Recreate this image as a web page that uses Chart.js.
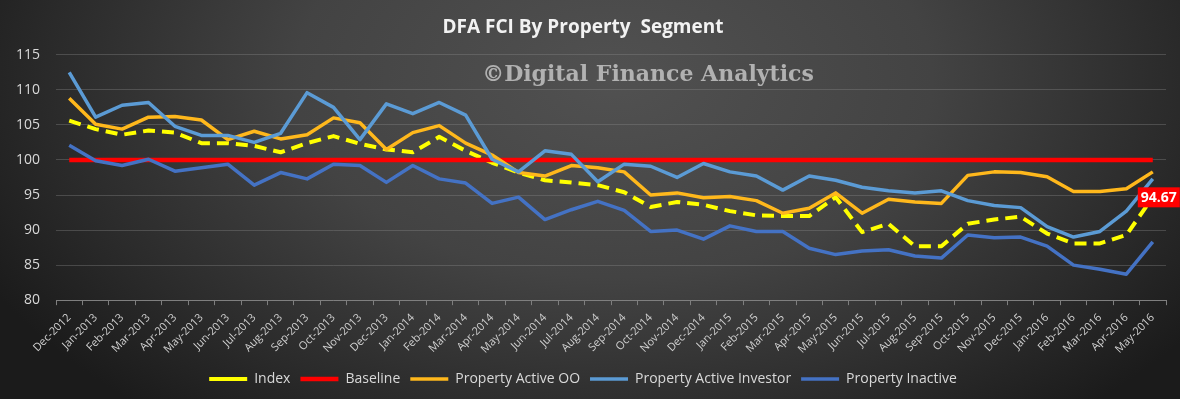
<!DOCTYPE html>
<html>
<head>
<meta charset="utf-8">
<script src="https://cdn.jsdelivr.net/npm/chart.js@4"></script>
<style>
  body { margin: 0; }
  #wrap {
    width: 1180px; height: 399px;
    background: radial-gradient(ellipse 60% 110% at 52% 20%, #515151 0%, #434343 45%, #2a2a2a 80%, #1b1b1b 100%);
  }
</style>
</head>
<body>
<div id="wrap"><canvas id="chart"></canvas></div>
<script>
const months = ['Dec-2012', 'Jan-2013', 'Feb-2013', 'Mar-2013', 'Apr-2013', 'May-2013', 'Jun-2013', 'Jul-2013',
    'Aug-2013', 'Sep-2013', 'Oct-2013', 'Nov-2013', 'Dec-2013', 'Jan-2014', 'Feb-2014', 'Mar-2014', 'Apr-2014',
    'May-2014', 'Jun-2014', 'Jul-2014', 'Aug-2014', 'Sep-2014', 'Oct-2014', 'Nov-2014', 'Dec-2014', 'Jan-2015',
    'Feb-2015', 'Mar-2015', 'Apr-2015', 'May-2015', 'Jun-2015', 'Jul-2015', 'Aug-2015', 'Sep-2015', 'Oct-2015',
    'Nov-2015', 'Dec-2015', 'Jan-2016', 'Feb-2016', 'Mar-2016', 'Apr-2016', 'May-2016'];

const indexValues = [105.6, 104.4, 103.6, 104.2, 103.9, 102.4, 102.4, 102.0, 101.1, 102.4, 103.4, 102.3, 101.5,
    101.1, 103.3, 101.3, 99.6, 98.2, 97.1, 96.8, 96.4, 95.4, 93.3, 94.0, 93.6, 92.7, 92.1, 92.0,
    92.0, 94.7, 89.7, 90.9, 87.7, 87.7, 90.9, 91.5, 91.9, 89.5, 88.1, 88.1, 89.3, 94.67];

const baseline = [100, 100, 100, 100, 100, 100, 100, 100, 100, 100, 100, 100, 100, 100,
    100, 100, 100, 100, 100, 100, 100, 100, 100, 100, 100, 100, 100, 100,
    100, 100, 100, 100, 100, 100, 100, 100, 100, 100, 100, 100, 100, 100];

const activeOO = [108.8, 105.1, 104.4, 106.1, 106.2, 105.7, 102.9, 104.1, 103.0, 103.6, 106.0, 105.3, 101.5,
    103.9, 104.9, 102.4, 100.7, 98.2, 97.7, 99.2, 98.9, 98.3, 95.0, 95.3, 94.6, 94.8, 94.2, 92.4,
    93.1, 95.3, 92.4, 94.4, 94.0, 93.8, 97.8, 98.3, 98.2, 97.6, 95.5, 95.5, 95.9, 98.3];

const activeInvestor = [112.5, 106.1, 107.8, 108.2, 104.8, 103.5, 103.5, 102.5, 103.8, 109.6, 107.5, 102.9, 108.0,
    106.6, 108.2, 106.4, 100.1, 98.3, 101.3, 100.8, 96.9, 99.4, 99.1, 97.5, 99.5, 98.3, 97.7, 95.7,
    97.7, 97.1, 96.1, 95.6, 95.3, 95.6, 94.2, 93.5, 93.2, 90.5, 89.0, 89.8, 92.7, 97.3];

const inactive = [102.1, 99.9, 99.2, 100.1, 98.4, 98.9, 99.4, 96.4, 98.2, 97.3, 99.4, 99.2, 96.8,
    99.2, 97.3, 96.7, 93.8, 94.7, 91.5, 92.9, 94.1, 92.8, 89.8, 90.0, 88.7, 90.6, 89.8, 89.8,
    87.4, 86.5, 87.0, 87.2, 86.3, 86.0, 89.3, 88.9, 89.0, 87.7, 85.0, 84.4, 83.7, 88.3];

const yTicks = [80, 85, 90, 95, 100, 105, 110, 115];

// watermark behind the lines
const watermark = {
    id: 'watermark',
    beforeDatasetsDraw(chart) {
        const ctx = chart.ctx;
        ctx.save();
        ctx.font = 'bold 22px "DejaVu Serif"';
        ctx.fillStyle = 'rgba(195,195,195,0.85)';
        ctx.textAlign = 'center';
        ctx.textBaseline = 'middle';
        ctx.fillText('\u00A9Digital Finance Analytics', 648, 75, 336);
        ctx.restore();
    }
};

// red box with the last index value
const lastLabel = {
    id: 'lastLabel',
    afterDatasetsDraw(chart) {
        const meta = chart.getDatasetMeta(0);
        const pt = meta.data[meta.data.length - 1];
        const ctx = chart.ctx;
        const text = indexValues[indexValues.length - 1].toFixed(2);
        ctx.save();
        ctx.font = 'bold 14px "Open Sans"';
        const w = ctx.measureText(text).width + 6;
        const cx = pt.x + 6;
        ctx.fillStyle = '#ff0000';
        ctx.fillRect(cx - w / 2, pt.y - 10, w, 20);
        ctx.fillStyle = '#ffffff';
        ctx.textAlign = 'center';
        ctx.textBaseline = 'middle';
        ctx.fillText(text, cx, pt.y + 1);
        ctx.restore();
    }
};

const ctx = document.getElementById('chart').getContext('2d');
new Chart(ctx, {
    type: 'line',
    data: {
        labels: months,
        datasets: [
            { label: 'Index', data: indexValues, borderColor: '#ffff00', backgroundColor: '#ffff00',
              borderWidth: 4, borderDash: [12, 7], order: 5 },
            { label: 'Baseline', data: baseline, borderColor: '#ff0000', backgroundColor: '#ff0000',
              borderWidth: 4.5, order: 4 },
            { label: 'Property Active OO', data: activeOO, borderColor: '#ffb81c', backgroundColor: '#ffb81c',
              borderWidth: 3.5, order: 3 },
            { label: 'Property Active Investor', data: activeInvestor, borderColor: '#5b9bd5', backgroundColor: '#5b9bd5',
              borderWidth: 3.5, order: 2 },
            { label: 'Property Inactive', data: inactive, borderColor: '#4472c4', backgroundColor: '#4472c4',
              borderWidth: 3.5, order: 1 },
        ],
    },
    options: {
        responsive: true,
        maintainAspectRatio: false,
        animation: false,
        elements: {
            point: { radius: 0, hoverRadius: 0 },
            line: { tension: 0, borderJoinStyle: 'round' },
        },
        layout: { padding: { left: 0, right: 14, bottom: 3 } },
        plugins: {
            title: {
                display: true,
                text: 'DFA FCI By Property  Segment',
                color: '#f2f2f2',
                font: { family: '"Open Sans"', size: 19, weight: 'bold' },
                padding: { top: 16, bottom: 16 },
            },
            legend: {
                position: 'bottom',
                labels: {
                    color: '#d9d9d9',
                    font: { family: '"Open Sans"', size: 14 },
                    usePointStyle: true,
                    pointStyle: 'line',
                    pointStyleWidth: 38,
                    padding: 10,
                    sort: (a, b) => a.datasetIndex - b.datasetIndex,
                },
            },
            tooltip: { enabled: false },
        },
        scales: {
            x: {
                offset: true,
                grid: { display: true, drawOnChartArea: false, offset: true, color: '#7f7f7f', tickLength: 5 },
                border: { color: '#7f7f7f' },
                ticks: {
                    color: '#d0d0d0',
                    font: { family: '"Open Sans"', size: 11 },
                    maxRotation: 45,
                    minRotation: 45,
                    autoSkip: false,
                    padding: 6,
                },
            },
            y: {
                min: 80,
                max: 115,
                afterBuildTicks: axis => { axis.ticks = yTicks.map(v => ({ value: v })); },
                grid: { color: 'rgba(140,140,140,0.35)', drawTicks: false },
                border: { display: false },
                ticks: {
                    color: '#d9d9d9',
                    font: { family: '"Open Sans"', size: 14 },
                    padding: 16,
                },
            },
        },
    },
    plugins: [watermark, lastLabel],
});
</script>
</body>
</html>
